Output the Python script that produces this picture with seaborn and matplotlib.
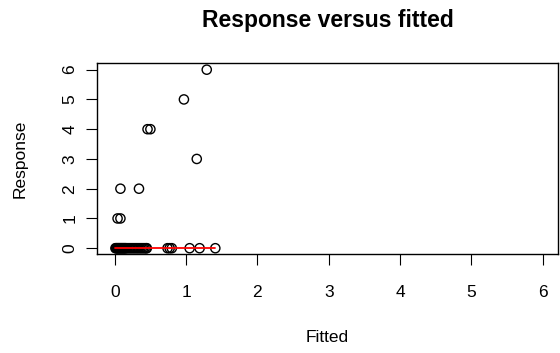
import numpy as np
import pandas as pd
import seaborn as sns
import matplotlib.pyplot as plt

# valores
fitted_zero = [0.01, 0.02, 0.03, 0.04, 0.05, 0.06, 0.07, 0.08, 0.09, 0.10, 0.11, 0.12,
               0.13, 0.14, 0.15, 0.16, 0.18, 0.20, 0.22, 0.24, 0.26, 0.28, 0.30, 0.32,
               0.34, 0.36, 0.38, 0.40, 0.42, 0.44, 0.45,
               0.74, 0.77, 0.80, 1.05, 1.19, 1.41]
fitted_pos = [0.04, 0.08, 0.08, 0.34, 0.46, 0.50, 1.15, 0.97, 1.29]
response_pos = [1, 1, 2, 2, 4, 4, 3, 5, 6]

fitted = fitted_zero + fitted_pos
response = [0] * len(fitted_zero) + response_pos
df = pd.DataFrame({'Fitted': fitted, 'Response': response})

# linea suavizada (practicamente plana en cero)
smooth_x = [min(fitted_zero), max(fitted_zero)]
smooth_y = [0, 0]

sns.set_style('ticks')
plt.rcParams['font.family'] = ['Liberation Sans', 'DejaVu Sans']
plt.rcParams['text.color'] = 'black'
plt.rcParams['axes.labelcolor'] = 'black'
plt.rcParams['xtick.color'] = 'black'
plt.rcParams['ytick.color'] = 'black'

fig = plt.figure(figsize=(5.6, 3.53), dpi=100)
ax = fig.add_axes([0.173, 0.280, 0.823, 0.542])

sns.scatterplot(data=df, x='Fitted', y='Response', marker='o', s=44,
                facecolors='none', edgecolor='black', linewidth=1.0, ax=ax, zorder=2)
sns.lineplot(x=smooth_x, y=smooth_y, color='red', linewidth=1.3, ax=ax, zorder=3)

ax.set_xlim(-0.25, 6.21)
ax.set_ylim(-0.2, 6.23)
ax.set_xticks(range(0, 7))
ax.set_yticks(range(0, 7))
ax.tick_params(axis='both', length=8, width=0.8, labelsize=12.5)
ax.tick_params(axis='x', pad=14)
ax.tick_params(axis='y', pad=6)
for lbl in ax.get_yticklabels():
    lbl.set_rotation(90)
    lbl.set_va('center')
for s in ax.spines.values():
    s.set_linewidth(1.0)
    s.set_color('black')

ax.set_xlabel('Fitted', fontsize=12.5, labelpad=22)
ax.set_ylabel('Response', fontsize=12.5, labelpad=25)
fig.text(0.586, 0.943, 'Response versus fitted', ha='center', va='center',
         fontsize=16.5, fontweight='bold')

fig.savefig('out.png', dpi=100)
